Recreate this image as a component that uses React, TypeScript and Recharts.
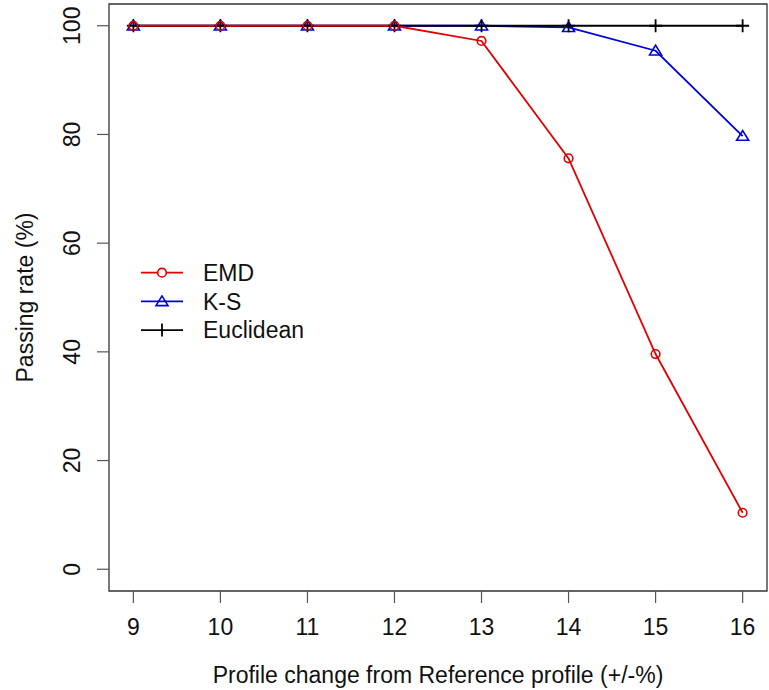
import { LineChart, Line, XAxis, YAxis, ReferenceArea, Legend } from "recharts";

const categories = [9, 10, 11, 12, 13, 14, 15, 16];
const emd = [100, 100, 100, 100, 97.2, 75.6, 39.6, 10.4];
const ks = [100, 100, 100, 100, 100, 99.7, 95.4, 79.7];
const euclidean = [100, 100, 100, 100, 100, 100, 100, 100];
const yTicks = [0, 20, 40, 60, 80, 100];

const RED = "#e00000";
const BLUE = "#0000dd";
const BLACK = "#000000";
const FONT = "'Liberation Sans', Arial, sans-serif";

const data = categories.map((x, i) => ({ x, emd: emd[i], ks: ks[i], euc: euclidean[i] }));

const Circle = (p: any) => (
  <circle key={`c${p.index}`} cx={p.cx} cy={p.cy} r={4.3} fill="none" stroke={RED} strokeWidth={1.6} />
);

const Triangle = (p: any) => (
  <polygon
    key={`t${p.index}`}
    points={`${p.cx},${p.cy - 5.5} ${p.cx - 6},${p.cy + 4.2} ${p.cx + 6},${p.cy + 4.2}`}
    fill="none"
    stroke={BLUE}
    strokeWidth={1.6}
  />
);

const Plus = (p: any) => (
  <path
    key={`p${p.index}`}
    d={`M${p.cx - 6.5},${p.cy}H${p.cx + 6.5}M${p.cx},${p.cy - 6.5}V${p.cy + 6.5}`}
    stroke={BLACK}
    strokeWidth={1.8}
  />
);

const YTick = (p: any) => (
  <text
    x={p.x}
    y={p.y}
    transform={`rotate(-90 ${p.x} ${p.y})`}
    textAnchor="middle"
    fontSize={23}
    fontFamily={FONT}
    fill="#111"
  >
    {p.payload.value}
  </text>
);

const legendItems = [
  { name: "EMD", color: RED, mark: "circle" },
  { name: "K-S", color: BLUE, mark: "triangle" },
  { name: "Euclidean", color: BLACK, mark: "plus" },
];

const LegendBox = () => (
  <svg width={200} height={100}>
    {legendItems.map((it, i) => {
      const y = 22.7 + i * 28.7;
      const cx = 32;
      return (
        <g key={it.name}>
          <line x1={11} x2={53} y1={y} y2={y} stroke={it.color} strokeWidth={1.8} />
          {it.mark === "circle" && <circle cx={cx} cy={y} r={4.3} fill="#fff" stroke={it.color} strokeWidth={1.6} />}
          {it.mark === "triangle" && (
            <polygon
              points={`${cx},${y - 5.5} ${cx - 6},${y + 4.2} ${cx + 6},${y + 4.2}`}
              fill="none"
              stroke={it.color}
              strokeWidth={1.6}
            />
          )}
          {it.mark === "plus" && <line x1={cx} x2={cx} y1={y - 6.5} y2={y + 6.5} stroke={it.color} strokeWidth={1.8} />}
          <text x={73} y={y + 8.2} fontSize={23} fontFamily={FONT} fill="#111">
            {it.name}
          </text>
        </g>
      );
    })}
  </svg>
);

export default function App() {
  return (
    <div style={{ position: "absolute", left: 0, top: 0, width: 769, height: 690, background: "#fff", fontFamily: FONT }}>
      <LineChart width={769} height={690} data={data} margin={{ top: 4, right: 2, bottom: 0, left: 0 }}>
        <XAxis
          type="number"
          dataKey="x"
          domain={[8.72, 16.28]}
          ticks={categories}
          allowDataOverflow
          axisLine={false}
          tickSize={12}
          tickMargin={16}
          height={99}
          tickLine={{ stroke: "#555", strokeWidth: 1.2 }}
          tick={{ fontSize: 23, fontFamily: FONT, fill: "#111" }}
          label={{
            value: "Profile change from Reference profile (+/-%)",
            position: "insideBottom",
            offset: 7,
            fontSize: 23,
            fontFamily: FONT,
            fill: "#111",
          }}
        />
        <YAxis
          type="number"
          domain={[-4, 104]}
          ticks={yTicks}
          allowDataOverflow
          axisLine={false}
          width={109}
          tickSize={12}
          tickMargin={17}
          tickLine={{ stroke: "#555", strokeWidth: 1.2 }}
          tick={YTick}
          label={{
            value: "Passing rate (%)",
            angle: -90,
            position: "insideLeft",
            offset: 25,
            fontSize: 23,
            fontFamily: FONT,
            fill: "#111",
            style: { textAnchor: "middle" },
          }}
        />
        <ReferenceArea x1={8.72} x2={16.28} y1={-4} y2={104} fill="none" stroke="#333" strokeWidth={1.3} ifOverflow="visible" />
        <Line dataKey="ks" stroke={BLUE} strokeWidth={1.8} dot={Triangle} isAnimationActive={false} />
        <Line dataKey="euc" stroke={BLACK} strokeWidth={1.8} dot={Plus} isAnimationActive={false} />
        <Line dataKey="emd" stroke={RED} strokeWidth={1.8} dot={Circle} isAnimationActive={false} />
        <Legend
          layout="vertical"
          verticalAlign="middle"
          align="center"
          content={LegendBox}
          wrapperStyle={{ position: "absolute", left: 130, top: 250, width: 200, height: 100 }}
        />
      </LineChart>
    </div>
  );
}
